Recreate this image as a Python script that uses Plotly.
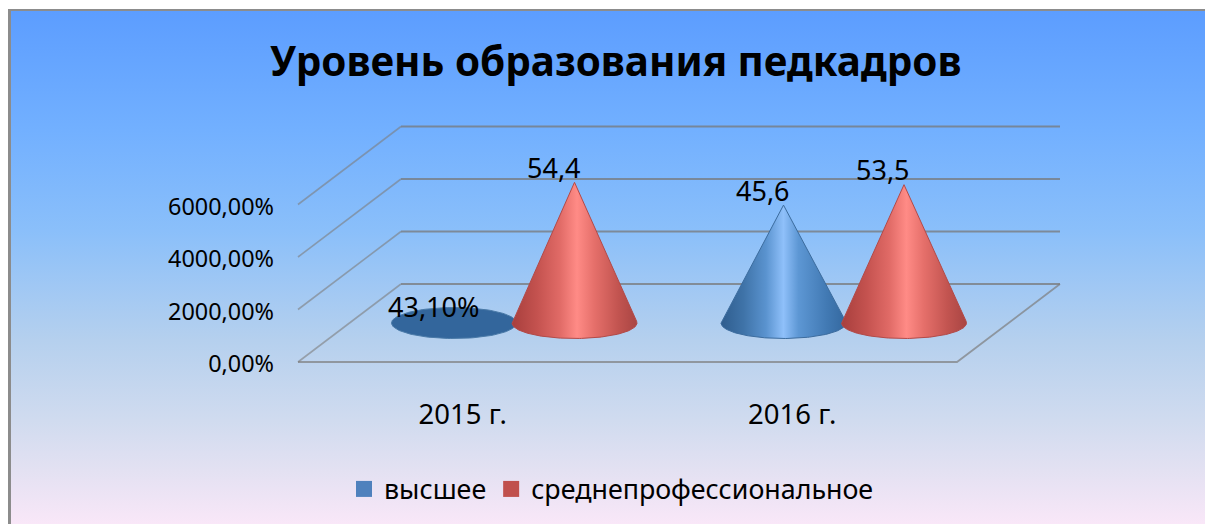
import numpy as np
import plotly.graph_objects as go

TITLE = "Уровень образования педкадров"
categories = ["2015 г.", "2016 г."]
series_names = ["высшее", "среднепрофессиональное"]
vysshee = [0.431, 45.6]
sredne = [54.4, 53.5]
labels_vysshee = ["43,10%", "45,6"]
labels_sredne = ["54,4", "53,5"]
y_ticks = [0, 2000, 4000, 6000]
y_tick_text = ["0,00%", "2000,00%", "4000,00%", "6000,00%"]

W, H = 1205, 524
FONT = "Noto Sans"
# axis calibration
PX_PER_CAT = 329.5
PX_PER_VAL = 52.5 / 2000
X0_PX = 298      # category -0.5
Y0_PX = 362      # value 0
DEPTH_DX, DEPTH_DY = 103, 78
APEX_SCALE = 0.985


def dx(px):
    return -0.5 + (px - X0_PX) / PX_PER_CAT


def dy(px):
    return (Y0_PX - px) / PX_PER_VAL


def project(cat, val, depth=0.0):
    return cat + depth * DEPTH_DX / PX_PER_CAT, val + depth * DEPTH_DY / PX_PER_VAL


fig = go.Figure()

# background gradient
bg_stops = [(10, "#5c9dff"), (130, "#72b0ff"), (230, "#8abffa"), (340, "#b5d0ee"),
            (420, "#d0dbef"), (470, "#e3e1f2"), (524, "#f9e7f8")]
fig.add_trace(go.Scatter(
    x=[dx(10), dx(W), dx(W), dx(10), dx(10)],
    y=[dy(10), dy(10), dy(H), dy(H), dy(10)],
    mode="lines", line=dict(width=0), fill="toself", hoverinfo="skip", showlegend=False,
    fillgradient=dict(type="vertical",
                      colorscale=[[(H - p) / (H - 10), c] for p, c in reversed(bg_stops)]),
))

# walls and gridlines
for v in y_ticks:
    a = project(-0.5, v, 0)
    b = project(-0.5, v, 1)
    c = project(1.5, v, 1)
    fig.add_trace(go.Scatter(x=[a[0], b[0]], y=[a[1], b[1]], mode="lines",
                             line=dict(color="rgba(125,125,125,0.6)", width=1.6),
                             hoverinfo="skip", showlegend=False))
    fig.add_trace(go.Scatter(x=[b[0], c[0]], y=[b[1], c[1]], mode="lines",
                             line=dict(color="rgba(120,120,120,0.75)", width=2.2),
                             hoverinfo="skip", showlegend=False))
f = [project(-0.5, 0, 0), project(1.5, 0, 0), project(1.5, 0, 1)]
fig.add_trace(go.Scatter(x=[p[0] for p in f], y=[p[1] for p in f], mode="lines",
                         line=dict(color="rgba(125,125,125,0.7)", width=1.8),
                         hoverinfo="skip", showlegend=False))

# cones
OFFSET = 60.25 / PX_PER_CAT
RX = 62.5 / PX_PER_CAT
RY = 15.5 / PX_PER_VAL
BLUE_SCALE = [[0, "#2f5d8e"], [0.18, "#3f73a8"], [0.36, "#5a93cf"], [0.5, "#8fc0fa"],
              [0.62, "#5d97d4"], [0.85, "#4179b3"], [1, "#34689f"]]
RED_SCALE = [[0, "#a83f3d"], [0.2, "#c4524f"], [0.38, "#e06a66"], [0.52, "#ff8b86"],
             [0.66, "#e56f6a"], [0.85, "#c25450"], [1, "#a94543"]]


def cone(cat, sign, value, scale, edge):
    cx, cy = project(cat + sign * OFFSET, 0, 0.5)
    h = value * APEX_SCALE
    t = np.linspace(0, 2 * np.pi, 121)
    if h < RY * 1.5:
        xs = cx + RX * np.cos(t)
        ys = cy + RY * np.sin(t)
        fig.add_trace(go.Scatter(x=xs, y=ys, mode="lines", fill="toself",
                                 fillcolor="#33669c", line=dict(color="#4a7aa8", width=1),
                                 hoverinfo="skip", showlegend=False))
        return cx, cy + h
    # silhouette: apex tangent points on the ellipse
    t0 = np.arcsin(min(RY / h, 1))
    arc = np.linspace(np.pi - t0, 2 * np.pi + t0, 121)
    xs = np.concatenate([[cx], cx + RX * np.cos(arc), [cx]])
    ys = np.concatenate([[cy + h], cy + RY * np.sin(arc), [cy + h]])
    fig.add_trace(go.Scatter(x=xs, y=ys, mode="lines", fill="toself",
                             line=dict(color=edge, width=1),
                             fillgradient=dict(type="horizontal", colorscale=scale),
                             hoverinfo="skip", showlegend=False))
    return cx, cy + h


anns = []
for i in range(len(categories)):
    ax, ay = cone(i, -1, vysshee[i] * 100, BLUE_SCALE, "#3c6c9e")
    anns.append((ax, ay, labels_vysshee[i]))
for i in range(len(categories)):
    ax, ay = cone(i, 1, sredne[i] * 100, RED_SCALE, "#b24a48")
    anns.append((ax, ay, labels_sredne[i]))

annotations = [
    dict(x=a[0], y=a[1], text=a[2], showarrow=False, xshift=-21, yshift=15,
         font=dict(family=FONT, size=27, color="#000000"))
    for a in anns
]
annotations.append(dict(x=615 / W, y=1 - 61 / H, xref="paper", yref="paper", text=f"<b>{TITLE}</b>",
                        xanchor="center", yanchor="middle", showarrow=False,
                        font=dict(family=FONT, size=40.4, color="#000000")))

# legend entries
for name, col in zip(series_names, ["#4f81bd", "#c0504d"]):
    fig.add_trace(go.Scatter(x=[None], y=[None], mode="markers", name=name,
                             marker=dict(symbol="square", size=16, color=col)))

fig.update_layout(
    width=W, height=H,
    margin=dict(l=0, r=0, t=0, b=0),
    paper_bgcolor="#ffffff",
    plot_bgcolor="rgba(0,0,0,0)",
    font=dict(family=FONT, color="#000000"),
    xaxis=dict(range=[dx(0), dx(W)], domain=[0, 1], anchor="free", position=1 - Y0_PX / H,
               tickmode="array", tickvals=list(range(len(categories))), ticktext=categories,
               showgrid=False, zeroline=False, showline=False, ticks="", ticklabelstandoff=33,
               tickfont=dict(family=FONT, size=27.5, color="#000000"), fixedrange=True),
    yaxis=dict(range=[dy(H), dy(0)], domain=[0, 1], anchor="free", position=X0_PX / W,
               tickmode="array", tickvals=y_ticks, ticktext=y_tick_text,
               showgrid=False, zeroline=False, showline=False, ticks="", ticklabelstandoff=24,
               ticklabelshift=2,
               tickfont=dict(family=FONT, size=23.4, color="#000000"), fixedrange=True),
    legend=dict(orientation="h", x=344 / W, xanchor="left", y=1 - 489 / H, yanchor="middle",
                bgcolor="rgba(0,0,0,0)", font=dict(family=FONT, size=26.8, color="#000000"),
                itemsizing="trace", traceorder="normal"),
    annotations=annotations,
    shapes=[
        dict(type="line", xref="paper", yref="paper", x0=9.5 / W, x1=9.5 / W, y0=0, y1=1 - 9 / H,
             line=dict(color="#8c8c8c", width=3)),
        dict(type="line", xref="paper", yref="paper", x0=8 / W, x1=1, y0=1 - 10 / H, y1=1 - 10 / H,
             line=dict(color="#8c8c8c", width=2)),
    ],
    showlegend=True,
)

fig.write_html("out.html", config={"displayModeBar": False},
               post_script="document.body.style.margin='0';document.body.style.overflow='hidden';")
